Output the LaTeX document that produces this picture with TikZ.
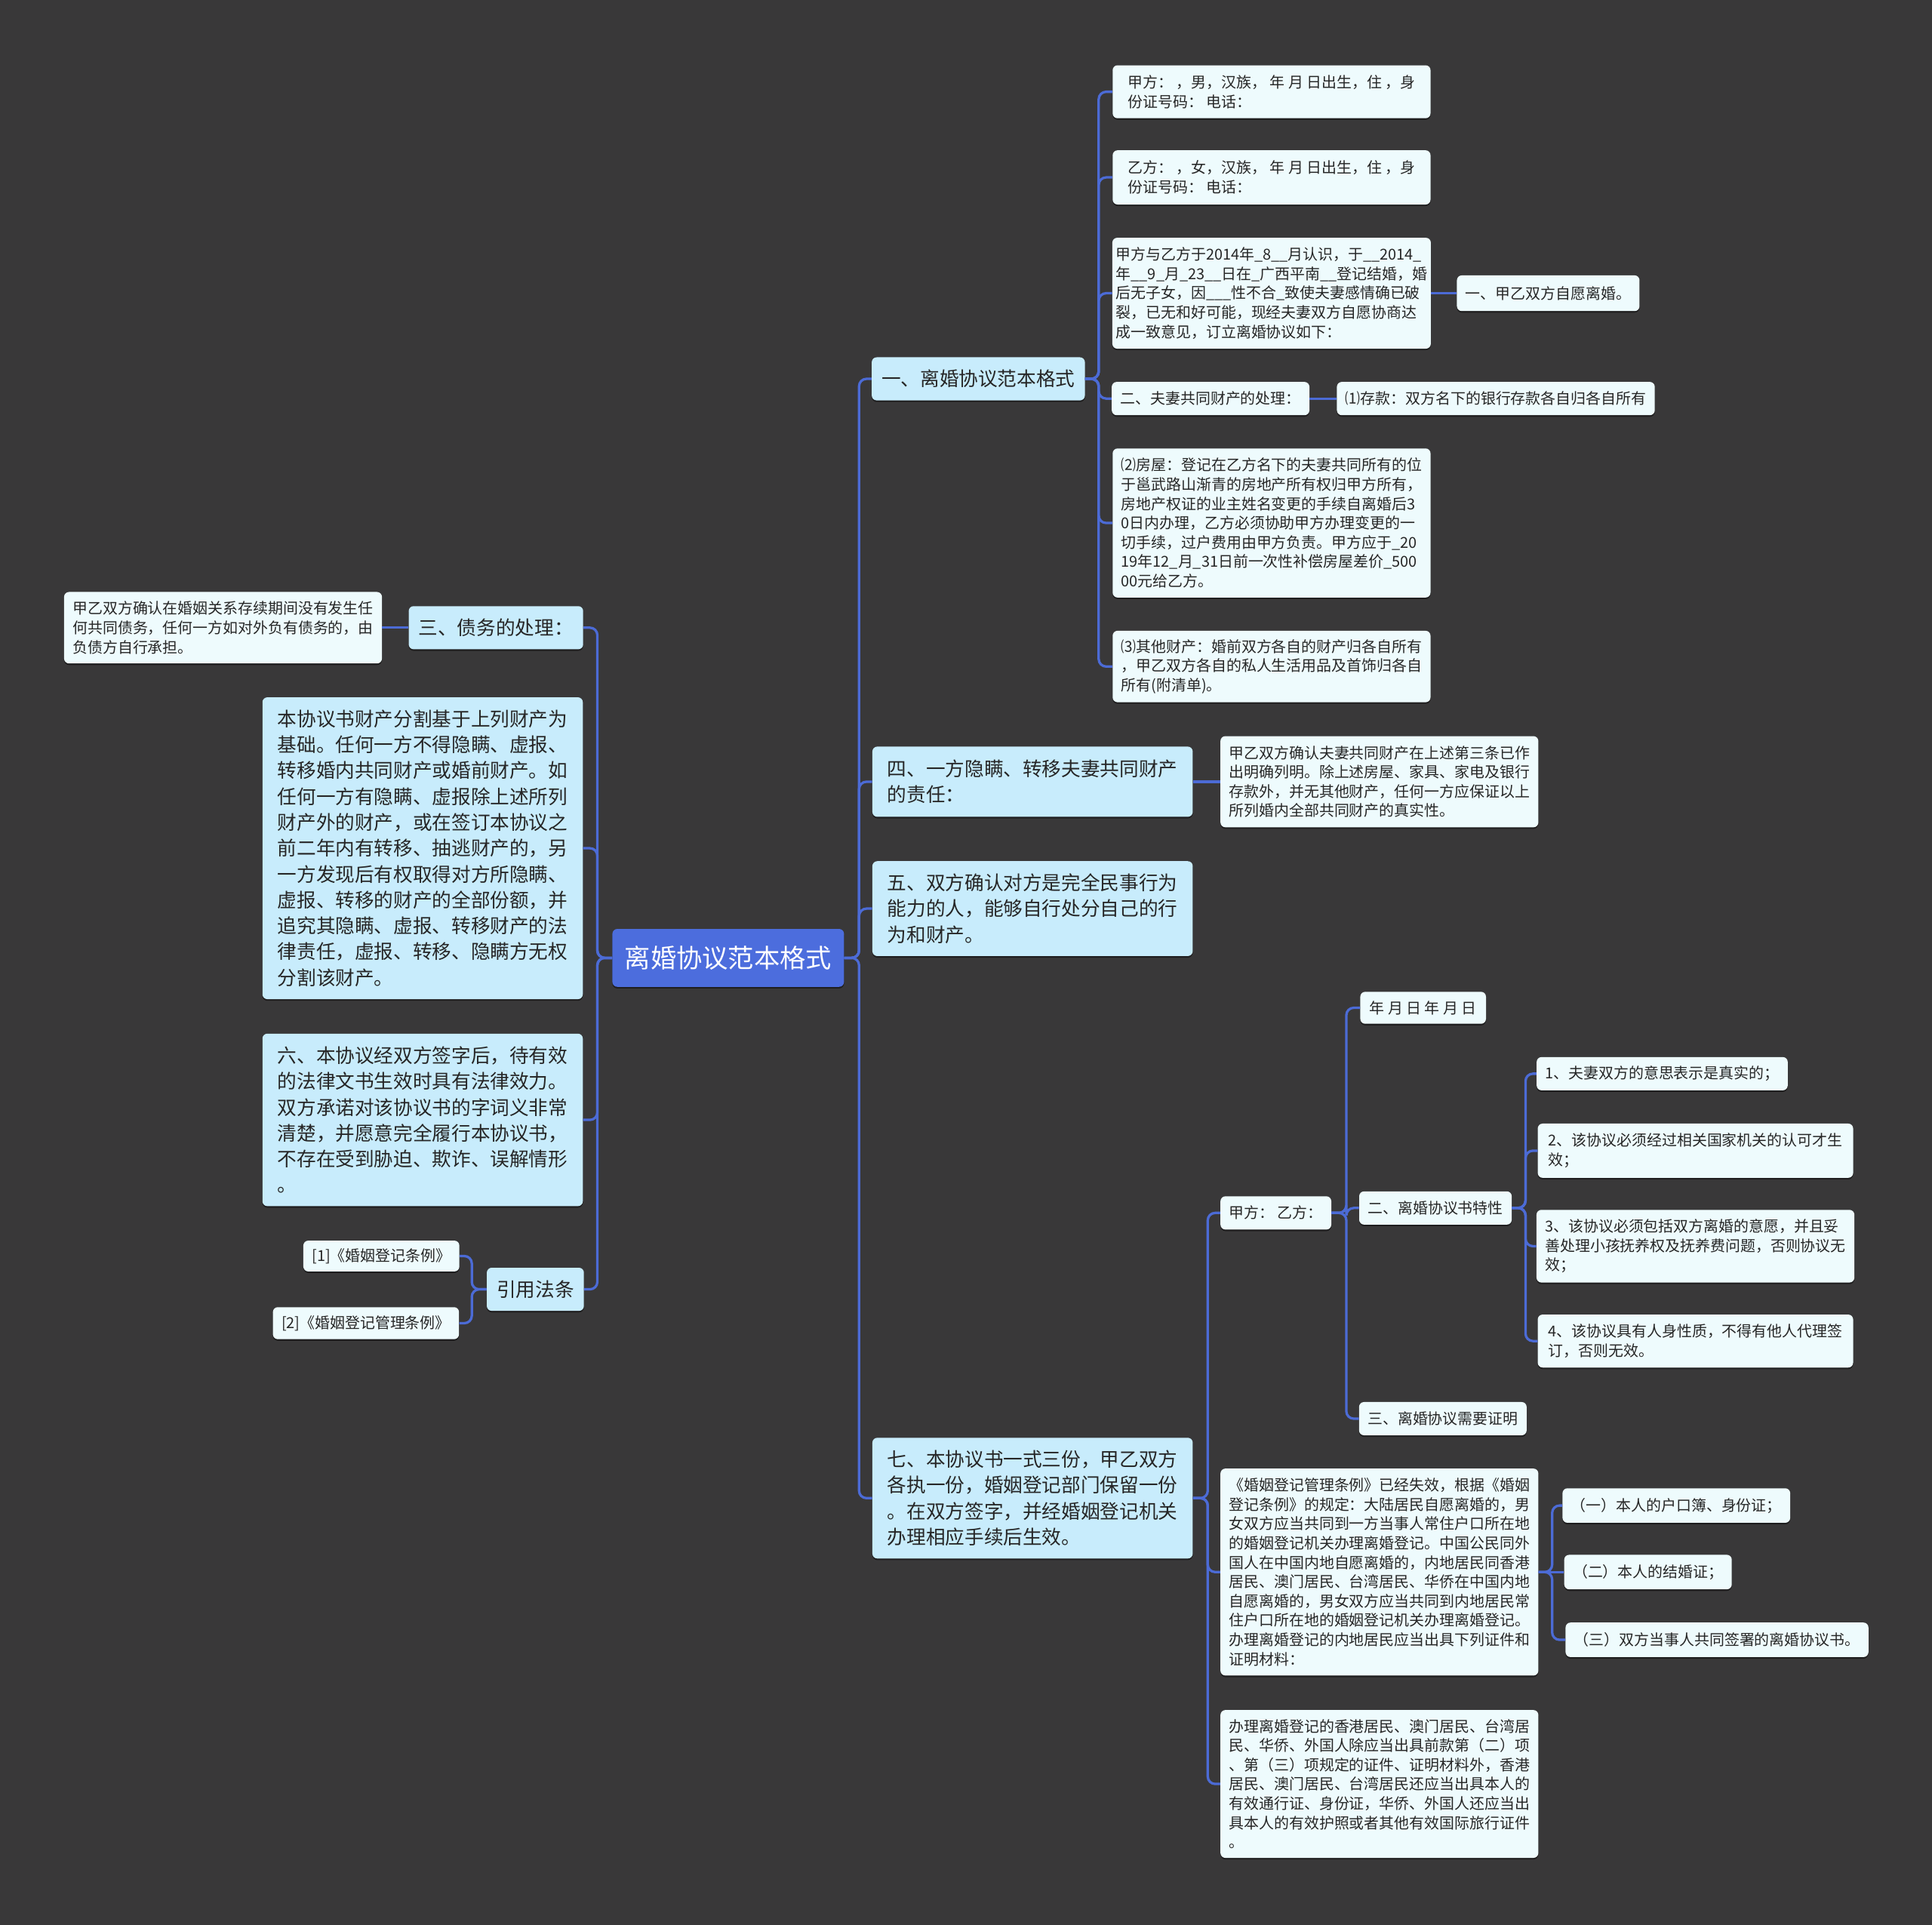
\documentclass[tikz,border=0pt]{standalone}
\usepackage{fontspec}
\newfontfamily\cjk{Noto Sans CJK SC}
\usetikzlibrary{shadows}
\definecolor{bg}{HTML}{393839}
\definecolor{leaffill}{HTML}{EEFBFD}
\definecolor{midfill}{HTML}{C8ECFC}
\definecolor{rootfill}{HTML}{4C6DDD}
\definecolor{linec}{HTML}{4C6BD6}
\definecolor{txt}{HTML}{262626}
\tikzset{
  base/.style={rounded corners=4pt, align=left, inner xsep=7pt, inner ysep=2pt, text=txt,
    drop shadow={shadow xshift=0pt, shadow yshift=-1.3pt, opacity=0.45, fill=black}},
  leaf/.style={base, fill=leaffill, font=\cjk\fontsize{12.2}{15.7}\selectfont},
  mid/.style={base, fill=midfill, inner xsep=8pt, font=\cjk\fontsize{15.7}{21}\selectfont},
  rootn/.style={base, fill=rootfill, text=white, font=\cjk\fontsize{21}{25}\selectfont},
  conn/.style={draw=linec, line width=2pt, rounded corners=6pt},
}
\begin{document}
\begin{tikzpicture}[x=1pt,y=-1pt]
\fill[bg] (0,0) rectangle (1568,1562.4);
\useasboundingbox (0,0) rectangle (1568,1562.4);

% root
\node[rootn, minimum width=188pt, minimum height=47pt] (root) at (591,777.5) {离婚协议范本格式};

% right level 1
\node[mid, minimum width=172pt, minimum height=35pt] (n1) at (794,307.5) {一、离婚协议范本格式};
\node[mid, minimum width=260pt, minimum height=57pt] (n4) at (838,634.5) {四、一方隐瞒、转移夫妻共同财产\\的责任：};
\node[mid, minimum width=260pt, minimum height=77pt] (n5) at (838,737.5) {五、双方确认对方是完全民事行为\\能力的人，能够自行处分自己的行\\为和财产。};
\node[mid, minimum width=260pt, minimum height=98pt] (n7) at (838,1216) {七、本协议书一式三份，甲乙双方\\各执一份，婚姻登记部门保留一份\\。在双方签字，并经婚姻登记机关\\办理相应手续后生效。};

% children of n1
\node[leaf, minimum width=258pt, minimum height=43pt] (a) at (1032,74.5) {甲方：\ ，男，汉族，\ 年 月 日出生，住\ ，身\\份证号码：\ 电话：};
\node[leaf, minimum width=258pt, minimum height=44pt] (b) at (1032,144) {乙方：\ ，女，汉族，\ 年 月 日出生，住\ ，身\\份证号码：\ 电话：};
\node[leaf, inner xsep=3pt, minimum width=258pt, minimum height=90pt] (c) at (1032,238) {甲方与乙方于2014年\_8\_\_月认识，于\_\_2014\_\\年\_\_9\_月\_23\_\_日在\_广西平南\_\_登记结婚，婚\\后无子女，因\_\_\_性不合\_致使夫妻感情确已破\\裂，已无和好可能，现经夫妻双方自愿协商达\\成一致意见，订立离婚协议如下：};
\node[leaf, minimum width=147pt, minimum height=29pt] (d) at (1256.5,238) {一、甲乙双方自愿离婚。};
\node[leaf, minimum width=159pt, minimum height=27pt] (e) at (982.5,323.5) {二、夫妻共同财产的处理：};
\node[leaf, minimum width=256pt, minimum height=27pt] (f) at (1214,323.5) {⑴存款：双方名下的银行存款各自归各自所有};
\node[leaf, minimum width=258pt, minimum height=121pt] (g) at (1032,424.5) {⑵房屋：登记在乙方名下的夫妻共同所有的位\\于邕武路山渐青的房地产所有权归甲方所有，\\房地产权证的业主姓名变更的手续自离婚后3\\0日内办理，乙方必须协助甲方办理变更的一\\切手续，过户费用由甲方负责。甲方应于\_20\\19年12\_月\_31日前一次性补偿房屋差价\_500\\00元给乙方。};
\node[leaf, minimum width=258pt, minimum height=58pt] (h) at (1032,541) {⑶其他财产：婚前双方各自的财产归各自所有\\，甲乙双方各自的私人生活用品及首饰归各自\\所有(附清单)。};

% child of n4
\node[leaf, minimum width=257pt, minimum height=74pt] (j) at (1119.5,634.5) {甲乙双方确认夫妻共同财产在上述第三条已作\\出明确列明。除上述房屋、家具、家电及银行\\存款外，并无其他财产，任何一方应保证以上\\所列婚内全部共同财产的真实性。};

% children of n7
\node[leaf, minimum width=89pt, minimum height=27pt] (m) at (1035.5,984.5) {甲方：\ 乙方：};
\node[leaf, minimum width=257pt, minimum height=168pt] (r) at (1119.5,1276) {《婚姻登记管理条例》已经失效，根据《婚姻\\登记条例》的规定：大陆居民自愿离婚的，男\\女双方应当共同到一方当事人常住户口所在地\\的婚姻登记机关办理离婚登记。中国公民同外\\国人在中国内地自愿离婚的，内地居民同香港\\居民、澳门居民、台湾居民、华侨在中国内地\\自愿离婚的，男女双方应当共同到内地居民常\\住户口所在地的婚姻登记机关办理离婚登记。\\办理离婚登记的内地居民应当出具下列证件和\\证明材料：};
\node[leaf, minimum width=257pt, minimum height=120pt] (t) at (1119.5,1448) {办理离婚登记的香港居民、澳门居民、台湾居\\民、华侨、外国人除应当出具前款第（二）项\\、第（三）项规定的证件、证明材料外，香港\\居民、澳门居民、台湾居民还应当出具本人的\\有效通行证、身份证，华侨、外国人还应当出\\具本人的有效护照或者其他有效国际旅行证件\\。};

% children of m
\node[leaf, minimum width=102pt, minimum height=26pt] (ymd) at (1155,818) {年 月 日 年 月 日};
\node[leaf, minimum width=122pt, minimum height=27pt] (o) at (1165,980.5) {二、离婚协议书特性};
\node[leaf, minimum width=134pt, minimum height=27pt] (p) at (1171,1151.5) {三、离婚协议需要证明};

% children of o
\node[leaf, minimum width=202pt, minimum height=27pt] (q1) at (1349,871.5) {1、夫妻双方的意思表示是真实的；};
\node[leaf, minimum width=256pt, minimum height=44pt] (q2) at (1376,934) {2、该协议必须经过相关国家机关的认可才生\\效；};
\node[leaf, minimum width=256pt, minimum height=59pt] (q3) at (1376,1011.5) {3、该协议必须包括双方离婚的意愿，并且妥\\善处理小孩抚养权及抚养费问题，否则协议无\\效；};
\node[leaf, minimum width=256pt, minimum height=43pt] (q4) at (1376,1088.5) {4、该协议具有人身性质，不得有他人代理签\\订，否则无效。};

% children of r
\node[leaf, minimum width=179pt, minimum height=28pt] (s1) at (1360.5,1222) {（一）本人的户口簿、身份证；};
\node[leaf, minimum width=133pt, minimum height=28pt] (s2) at (1337.5,1276) {（二）本人的结婚证；};
\node[leaf, minimum width=245pt, minimum height=28pt] (s3) at (1393.5,1331) {（三）双方当事人共同签署的离婚协议书。};

% left side
\node[mid, minimum width=141pt, minimum height=35pt] (u) at (402.5,509.5) {三、债务的处理：};
\node[leaf, minimum width=256pt, minimum height=58pt] (v) at (181,509.5) {甲乙双方确认在婚姻关系存续期间没有发生任\\何共同债务，任何一方如对外负有债务的，由\\负债方自行承担。};
\node[mid, minimum width=260pt, minimum height=245pt] (w) at (343,688.5) {本协议书财产分割基于上列财产为\\基础。任何一方不得隐瞒、虚报、\\转移婚内共同财产或婚前财产。如\\任何一方有隐瞒、虚报除上述所列\\财产外的财产，或在签订本协议之\\前二年内有转移、抽逃财产的，另\\一方发现后有权取得对方所隐瞒、\\虚报、转移的财产的全部份额，并\\追究其隐瞒、虚报、转移财产的法\\律责任，虚报、转移、隐瞒方无权\\分割该财产。};
\node[mid, minimum width=260pt, minimum height=140pt] (six) at (343,909) {六、本协议经双方签字后，待有效\\的法律文书生效时具有法律效力。\\双方承诺对该协议书的字词义非常\\清楚，并愿意完全履行本协议书，\\不存在受到胁迫、欺诈、误解情形\\。};
\node[mid, minimum width=77pt, minimum height=35pt] (cite) at (434.5,1046.5) {引用法条};
\node[leaf, minimum width=125pt, minimum height=25pt] (z1) at (309.5,1019.5) {[1]《婚姻登记条例》};
\node[leaf, minimum width=150pt, minimum height=26pt] (z2) at (297,1074) {[2]《婚姻登记管理条例》};

% connectors right of root
\foreach \c in {n1,n4,n5,n7} \draw[conn] (root.east) -- ++(12,0) |- (\c.west);
\foreach \c in {a,b,c,e,g,h} \draw[conn] (n1.east) -- ++(11,0) |- (\c.west);
\draw[conn] (c.east) -- (d.west);
\draw[conn] (e.east) -- (f.west);
\draw[conn] (n4.east) -- (j.west);
\foreach \c in {m,r,t} \draw[conn] (n7.east) -- ++(12,0) |- (\c.west);
\foreach \c in {ymd,o,p} \draw[conn] (m.east) -- ++(12,0) |- (\c.west);
\foreach \c in {q1,q2,q3,q4} \draw[conn] (o.east) -- ++(11,0) |- (\c.west);
\foreach \c in {s1,s3} \draw[conn] (r.east) -- ++(11,0) |- (\c.west);
\draw[conn] (r.east) -- (s2.west);

% connectors left of root
\foreach \c in {u,w,six,cite} \draw[conn] (root.west) -- ++(-12,0) |- (\c.east);
\draw[conn] (u.west) -- (v.east);
\foreach \c in {z1,z2} \draw[conn] (cite.west) -- ++(-12,0) |- (\c.east);
\end{tikzpicture}
\end{document}
